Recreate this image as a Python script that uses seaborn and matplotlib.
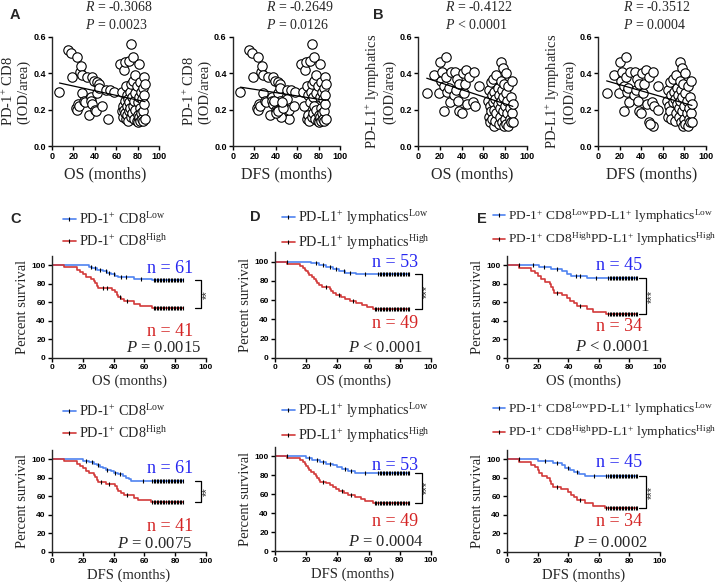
import numpy as np
import seaborn as sns
import matplotlib.pyplot as plt
from matplotlib.lines import Line2D

# ---------------- scatter data (A: PD-1+ CD8, B: PD-L1+ lymphatics) ----------------
a_os = [7, 15, 18, 19, 23, 22, 23, 24, 25, 26, 27, 28, 28, 30, 31, 33, 35, 36, 36, 37, 37, 39,
        40, 41, 42, 42, 44, 44, 47, 50, 52, 54, 58,
        64, 65, 65, 66, 66, 67, 67, 68, 68, 68, 69, 69, 70, 70, 70, 71, 71, 72, 72, 72, 73, 73,
        74, 74, 74, 75, 75, 76, 76, 76, 77, 77, 78, 78, 78, 79, 79, 80, 80, 80, 81, 81, 81, 82,
        82, 82, 83, 83, 84, 84, 85, 85, 85, 86, 86, 86, 87, 87]
a_dfs = [7, 15, 18, 19, 23, 22, 23, 24, 25, 26, 27, 28, 28, 30, 31, 33, 35, 36, 36, 37, 37, 39,
         40, 41, 42, 42, 44, 44, 47, 50, 52, 54, 58,
         64, 48, 65, 45, 66, 67, 52, 40, 68, 44, 69, 69, 57, 70, 70, 50, 71, 72, 42, 72, 73, 47,
         74, 74, 74, 75, 75, 76, 76, 76, 77, 38, 78, 78, 78, 79, 79, 80, 46, 80, 81, 81, 81, 82,
         82, 82, 83, 83, 84, 84, 85, 85, 85, 86, 86, 86, 87, 87]
a_cd8 = [.30, .53, .51, .38, .49, .21, .20, .23, .22, .41, .44, .29, .39, .25, .24, .38, .17, .27,
         .25, .23, .38, .36, .20, .19, .35, .29, .34, .32, .22, .31, .15, .31, .30,
         .45, .19, .30, .16, .22, .42, .20, .18, .46, .25, .15, .33, .22, .28, .17, .26, .14, .47,
         .19, .24, .30, .21, .56, .16, .34, .27, .18, .49, .36, .22, .15, .25, .39, .29, .20, .14,
         .33, .17, .24, .13, .45, .27, .16, .21, .35, .14, .30, .18, .15, .26, .32, .19, .14, .38,
         .28, .23, .15, .34]

b_os = [8, 15, 19, 20, 21, 22, 24, 24, 26, 26, 27, 28, 29, 30, 33, 34, 35, 36, 37, 38, 38, 40,
        41, 42, 43, 44, 45, 47, 50, 51, 52, 56,
        64, 65, 65, 66, 66, 67, 67, 68, 68, 69, 69, 70, 70, 70, 71, 71, 72, 72, 73, 73, 74, 74,
        75, 75, 76, 76, 76, 77, 77, 78, 78, 78, 79, 79, 80, 80, 81, 81, 81, 82, 82, 83, 83, 84,
        84, 85, 85, 86, 86, 87, 87]
b_dfs = [8, 15, 19, 20, 21, 22, 24, 24, 26, 26, 27, 28, 29, 30, 33, 34, 35, 36, 37, 38, 38, 40,
         41, 42, 43, 44, 45, 47, 50, 51, 52, 56,
         64, 65, 65, 47, 66, 67, 67, 68, 68, 69, 69, 51, 56, 70, 71, 71, 72, 72, 73, 73, 48, 74,
         75, 75, 76, 76, 76, 77, 77, 78, 78, 78, 79, 79, 80, 80, 81, 81, 81, 82, 82, 83, 83, 84,
         84, 85, 85, 86, 86, 87, 87]
b_pdl1 = [.29, .39, .29, .46, .36, .41, .19, .33, .49, .38, .30, .32, .24, .41, .28, .41, .31, .37,
          .25, .34, .19, .18, .40, .29, .34, .42, .23, .38, .24, .41, .22, .33,
          .25, .16, .31, .13, .22, .35, .19, .28, .15, .24, .37, .11, .20, .30, .14, .26, .39, .18,
          .23, .32, .12, .28, .21, .16, .46, .36, .25, .13, .31, .43, .19, .27, .11, .34, .22, .15,
          .40, .29, .12, .25, .18, .33, .11, .21, .15, .27, .13, .36, .18, .23, .13]

# ---------------- Kaplan-Meier data: event times, survival after event, censor times ----------------
c_os_low_t = [24, 26, 29, 33, 36, 38, 41, 43, 53, 65]
c_os_low_s = [98.4, 96.7, 95.1, 93.4, 91.8, 90.2, 88.5, 86.9, 85.2, 83.6]
c_os_low_c = [25, 28, 31, 35, 37, 40, 45, 48, 58, 66, 67, 68, 69, 70, 71, 72, 73, 74, 75, 76, 77,
              78, 79, 80, 81, 82, 83, 84, 85]
c_os_high_t = [8, 16, 18, 20, 22, 25, 27, 28, 29, 30, 39, 41, 42, 43, 45, 47, 53, 57, 65]
c_os_high_s = [97.6, 95.1, 92.7, 90.2, 87.8, 85.4, 82.9, 80.5, 78.0, 75.6, 73.2, 70.7, 68.3, 65.9,
               63.4, 61.0, 58.5, 56.1, 53.7]
c_os_high_c = [33, 36, 44, 49, 66, 67, 68, 69, 70, 71, 72, 73, 74, 75, 76, 77, 78, 79, 80, 81, 82,
               83, 84, 85]

c_dfs_low_t = [20, 24, 27, 29, 31, 33, 35, 38, 40, 43, 46, 48, 50, 51]
c_dfs_low_s = [98.4, 96.7, 95.1, 93.4, 91.8, 90.2, 88.5, 86.9, 85.2, 83.6, 82.0, 80.3, 78.7, 77.0]
c_dfs_low_c = [22, 26, 30, 36, 41, 44, 59, 65, 66, 67, 68, 69, 70, 71, 72, 73, 74, 75, 76, 77, 78,
               79, 80, 81, 82, 83, 84, 85]
c_dfs_high_t = [8, 16, 18, 20, 22, 24, 27, 28, 29, 30, 35, 41, 42, 43, 45, 47, 53, 56, 64]
c_dfs_high_s = [97.6, 95.1, 92.7, 90.2, 87.8, 85.4, 82.9, 80.5, 78.0, 75.6, 73.2, 70.7, 68.3, 65.9,
                63.4, 61.0, 58.5, 56.1, 53.7]
c_dfs_high_c = [32, 37, 49, 65, 66, 67, 68, 69, 70, 71, 72, 73, 74, 75, 76, 77, 78, 79, 80, 81,
                82, 83, 84, 85]

d_os_low_t = [23, 28, 33, 37, 41, 45, 52]
d_os_low_s = [98.1, 96.2, 94.3, 92.5, 90.6, 88.7, 86.8]
d_os_low_c = [8, 26, 31, 35, 39, 44, 48, 58, 66, 67, 68, 69, 70, 71, 72, 73, 74, 75, 76, 77, 78,
              79, 80, 81, 82, 83, 84, 85, 86]
d_os_high_t = [8, 16, 18, 19, 20, 21, 22, 24, 25, 26, 27, 28, 30, 35, 36, 37, 39, 42, 45, 48, 52,
               56, 59, 63]
d_os_high_s = [98.0, 95.9, 93.9, 91.8, 89.8, 87.8, 85.7, 83.7, 81.6, 79.6, 77.6, 75.5, 73.5, 71.4,
               69.4, 67.3, 65.3, 63.3, 61.2, 59.2, 57.1, 55.1, 53.1, 51.0]
d_os_high_c = [33, 41, 50, 64, 65, 66, 67, 68, 69, 70, 71, 72, 73, 74, 75, 76, 77, 78, 79, 80, 81,
               82, 83, 84, 85, 86]

d_dfs_low_t = [20, 24, 29, 33, 37, 40, 43, 47, 51]
d_dfs_low_s = [98.1, 96.2, 94.3, 92.5, 90.6, 88.7, 86.8, 84.9, 83.0]
d_dfs_low_c = [8, 22, 27, 31, 35, 45, 49, 58, 66, 67, 68, 69, 70, 71, 72, 73, 74, 75, 76, 77, 78,
               79, 80, 81, 82, 83, 84, 85, 86]
d_dfs_high_t = [8, 16, 18, 19, 20, 21, 22, 23, 25, 26, 27, 28, 29, 33, 35, 37, 39, 41, 44, 47, 51,
                55, 58, 63]
d_dfs_high_s = [98.0, 95.9, 93.9, 91.8, 89.8, 87.8, 85.7, 83.7, 81.6, 79.6, 77.6, 75.5, 73.5, 71.4,
                69.4, 67.3, 65.3, 63.3, 61.2, 59.2, 57.1, 55.1, 53.1, 51.0]
d_dfs_high_c = [31, 43, 49, 64, 65, 66, 67, 68, 69, 70, 71, 72, 73, 74, 75, 76, 77, 78, 79, 80,
                81, 82, 83, 84, 85, 86]

e_os_low_t = [21, 29, 36, 39, 42, 52]
e_os_low_s = [97.8, 95.6, 93.3, 91.1, 88.9, 86.7]
e_os_low_c = [8, 17, 24, 33, 45, 48, 58, 66, 67, 68, 69, 70, 71, 72, 73, 74, 75, 76, 77, 78, 79,
              80, 81, 82, 83, 84, 85]
e_os_high_t = [8, 16, 18, 20, 22, 25, 28, 29, 30, 31, 36, 39, 41, 44, 46, 52, 56, 65]
e_os_high_s = [97.1, 94.1, 91.2, 88.2, 85.3, 82.4, 79.4, 76.5, 73.5, 70.6, 67.6, 64.7, 61.8, 58.8,
               55.9, 52.9, 50.0, 47.1]
e_os_high_c = [33, 48, 66, 67, 68, 69, 70, 71, 72, 73, 74, 75, 76, 77, 78, 79, 80, 81, 82, 83,
               84, 85]

e_dfs_low_t = [20, 30, 36, 38, 41, 44, 47, 51]
e_dfs_low_s = [97.8, 95.6, 93.3, 91.1, 88.9, 86.7, 84.4, 82.2]
e_dfs_low_c = [8, 25, 33, 40, 46, 57, 65, 66, 67, 68, 69, 70, 71, 72, 73, 74, 75, 76, 77, 78, 79,
               80, 81, 82, 83, 84, 85]
e_dfs_high_t = [8, 16, 18, 20, 21, 23, 26, 28, 29, 30, 35, 40, 42, 44, 46, 51, 56, 64]
e_dfs_high_s = [97.1, 94.1, 91.2, 88.2, 85.3, 82.4, 79.4, 76.5, 73.5, 70.6, 67.6, 64.7, 61.8, 58.8,
                55.9, 52.9, 50.0, 47.1]
e_dfs_high_c = [33, 48, 65, 66, 67, 68, 69, 70, 71, 72, 73, 74, 75, 76, 77, 78, 79, 80, 81, 82,
                83, 84, 85]

lab_c = ['PD-1$^{+}$ CD8$^{\\mathrm{Low}}$', 'PD-1$^{+}$ CD8$^{\\mathrm{High}}$']
lab_d = ['PD-L1$^{+}$ lymphatics$^{\\mathrm{Low}}$', 'PD-L1$^{+}$ lymphatics$^{\\mathrm{High}}$']
lab_e = ['PD-1$^{+}$ CD8$^{\\mathrm{Low}}$PD-L1$^{+}$ lymphatics$^{\\mathrm{Low}}$',
         'PD-1$^{+}$ CD8$^{\\mathrm{High}}$PD-L1$^{+}$ lymphatics$^{\\mathrm{High}}$']

# ---------------- style ----------------
sns.set_theme(style='ticks')
plt.rcParams['font.family'] = ['Liberation Serif', 'DejaVu Sans']
plt.rcParams['mathtext.fontset'] = 'custom'
plt.rcParams['mathtext.rm'] = 'Liberation Serif'
plt.rcParams['mathtext.it'] = 'Liberation Serif:italic'
plt.rcParams['mathtext.bf'] = 'Liberation Serif:bold'
plt.rcParams['axes.linewidth'] = 1.0

BLUE = '#4f83f0'
RED = '#d23a3a'
BLUE_T = '#2626f0'
RED_T = '#d42424'
W, H = 724, 582

fig = plt.figure(figsize=(W / 100, H / 100), dpi=100)


def add_ax(l, t, r, b):
    return fig.add_axes([l / W, 1 - b / H, (r - l) / W, (b - t) / H])


def style_ticks(ax, xt, yt, ylabels, size):
    ax.set_xticks(xt, labels=[str(v) for v in xt], fontfamily='Liberation Sans',
                  fontweight='bold', fontsize=size)
    ax.set_yticks(yt, labels=ylabels, fontfamily='Liberation Sans',
                  fontweight='bold', fontsize=size)
    ax.tick_params(direction='out', length=3, width=1, pad=1.5, colors='black')
    sns.despine(ax=ax)


def scatter_panel(box, x, y, ylab, xlab, r_txt, p_txt, tx):
    ax = add_ax(*box)
    sns.scatterplot(x=x, y=y, ax=ax, s=46, color='white', edgecolor='black',
                    linewidth=0.8, zorder=2, clip_on=False)
    sns.regplot(x=x, y=y, ax=ax, scatter=False, ci=None, truncate=True,
                line_kws=dict(color='black', lw=0.9, zorder=3))
    ax.set_xlim(0, 100)
    ax.set_ylim(0, 0.6)
    style_ticks(ax, [0, 20, 40, 60, 80, 100], [0, 0.2, 0.4, 0.6],
                ['0.0', '0.2', '0.4', '0.6'], 6.5)
    ax.set_ylabel(ylab, fontsize=10.5, linespacing=1.05, labelpad=2)
    ax.set_xlabel(xlab, fontsize=11.5, labelpad=4)
    ax.text(tx, 1.275, r_txt, transform=ax.transAxes, fontsize=10, va='center', ha='left')
    ax.text(tx, 1.11, p_txt, transform=ax.transAxes, fontsize=10, va='center', ha='left')
    return ax


def step_at(times, surv, t):
    i = np.searchsorted(times, t, side='right')
    return 100 if i == 0 else surv[i - 1]


def km_panel(box, low, high, labels, xlab, end, lay):
    ax = add_ax(*box)
    for (t, s, c), col in ((low, BLUE), (high, RED)):
        xs = [0] + t + [end]
        ys = [100] + s + [s[-1]]
        sns.lineplot(x=xs, y=ys, ax=ax, drawstyle='steps-post', color=col, lw=1.2,
                     estimator=None, sort=False)
        ax.plot(c, [step_at(t, s, v) for v in c], ls='none', marker='|', color='black',
                ms=3.2, mew=0.8, zorder=4)
    ax.set_xlim(0, 100)
    ax.set_ylim(0, 110)
    style_ticks(ax, [0, 20, 40, 60, 80, 100], [0, 20, 40, 60, 80, 100],
                ['0', '20', '40', '60', '80', '100'], 6)
    ax.set_ylabel('Percent survival', fontsize=10.5, labelpad=2)
    ax.set_xlabel(xlab, fontsize=10.5, labelpad=2)

    # bracket between curve ends + stars
    y_top, y_bot = low[1][-1], high[1][-1]
    bx0, bx1 = lay['bracket']
    ax.plot([bx0, bx1, bx1, bx0], [y_top, y_top, y_bot, y_bot], color='black', lw=0.9,
            clip_on=False)
    ax.text(bx1 + 3.6, (y_top + y_bot) / 2, lay['stars'], rotation=90, fontsize=8,
            ha='center', va='center', fontfamily='Liberation Sans')

    nx, ny_low, ny_high = lay['n']
    ax.text(nx, ny_low, 'n = %d' % lay['counts'][0], color=BLUE_T, fontsize=13,
            ha='center', va='center')
    ax.text(nx, ny_high, 'n = %d' % lay['counts'][1], color=RED_T, fontsize=13,
            ha='center', va='center')
    px, py = lay['p']
    ax.text(px, py, lay['ptxt'], fontsize=12, ha='right', va='center')

    handles = [Line2D([], [], color=BLUE, lw=1.2, marker='|', mec='black', ms=3, mew=0.8),
               Line2D([], [], color=RED, lw=1.2, marker='|', mec='black', ms=3, mew=0.8)]
    ax.legend(handles, labels, loc='center left', bbox_to_anchor=lay['leg'], frameon=False,
              prop={'family': 'Liberation Serif', 'size': lay.get('lsize', 10.2)},
              handlelength=0.9, handletextpad=0.2, labelspacing=0.42, borderpad=0,
              borderaxespad=0)
    return ax


scatter_panel((52, 37, 159, 146), a_os, a_cd8, 'PD-1$^{+}$ CD8\n(IOD/area)', 'OS (months)',
              '$R$ = -0.3068', '$P$ = 0.0023', 0.31)
scatter_panel((233, 37, 340, 146), a_dfs, a_cd8, 'PD-1$^{+}$ CD8\n(IOD/area)', 'DFS (months)',
              '$R$ = -0.2649', '$P$ = 0.0126', 0.31)
scatter_panel((418, 37, 527, 146), b_os, b_pdl1, 'PD-L1$^{+}$ lymphatics\n(IOD/area)',
              'OS (months)', '$R$ = -0.4122', '$P$ < 0.0001', 0.25)
scatter_panel((598, 37, 706, 146), b_dfs, b_pdl1, 'PD-L1$^{+}$ lymphatics\n(IOD/area)',
              'DFS (months)', '$R$ = -0.3512', '$P$ = 0.0004', 0.23)

km_panel((52, 256, 206, 358), (c_os_low_t, c_os_low_s, c_os_low_c),
         (c_os_high_t, c_os_high_s, c_os_high_c), lab_c, 'OS (months)', 85,
         dict(bracket=(93, 97), stars='**', n=(77, 97, 29), counts=(61, 41), p=(97, 10.5),
              ptxt='$P$ = 0.0015', leg=(0.071, 1.255)))
km_panel((52, 450, 206, 552), (c_dfs_low_t, c_dfs_low_s, c_dfs_low_c),
         (c_dfs_high_t, c_dfs_high_s, c_dfs_high_c), lab_c, 'DFS (months)', 85,
         dict(bracket=(93, 97), stars='**', n=(77, 90, 27), counts=(61, 41), p=(91, 9),
              ptxt='$P$ = 0.0075', leg=(0.071, 1.275)))
km_panel((275, 252, 431, 358), (d_os_low_t, d_os_low_s, d_os_low_c),
         (d_os_high_t, d_os_high_s, d_os_high_c), lab_d, 'OS (months)', 86,
         dict(bracket=(90, 94), stars='***', n=(77, 99, 36), counts=(53, 49), p=(95, 10),
              ptxt='$P$ < 0.0001', leg=(0.045, 1.208)))
km_panel((275, 447, 431, 551), (d_dfs_low_t, d_dfs_low_s, d_dfs_low_c),
         (d_dfs_high_t, d_dfs_high_s, d_dfs_high_c), lab_d, 'DFS (months)', 86,
         dict(bracket=(90, 94), stars='***', n=(77, 90, 31), counts=(53, 49), p=(95, 9.5),
              ptxt='$P$ = 0.0004', leg=(0.045, 1.234)))
km_panel((507, 256, 660, 358), (e_os_low_t, e_os_low_s, e_os_low_c),
         (e_os_high_t, e_os_high_s, e_os_high_c), lab_e, 'OS (months)', 85,
         dict(bracket=(86, 91), stars='***', n=(73, 100, 34), counts=(45, 34), p=(93.5, 12),
              ptxt='$P$ < 0.0001', leg=(-0.092, 1.275), lsize=9.7))
km_panel((507, 450, 660, 552), (e_dfs_low_t, e_dfs_low_s, e_dfs_low_c),
         (e_dfs_high_t, e_dfs_high_s, e_dfs_high_c), lab_e, 'DFS (months)', 85,
         dict(bracket=(86, 91), stars='***', n=(73, 96, 33), counts=(45, 34), p=(92, 9.7),
              ptxt='$P$ = 0.0002', leg=(-0.092, 1.284), lsize=9.7))

for letter, (lx, ly) in {'A': (10, 15), 'B': (373, 15), 'C': (10, 219),
                         'D': (250, 217), 'E': (477, 219)}.items():
    fig.text(lx / W, 1 - ly / H, letter, fontfamily='Liberation Sans', fontweight='bold',
             fontsize=10.5, ha='left', va='center')

fig.savefig('out.png', dpi=100)
